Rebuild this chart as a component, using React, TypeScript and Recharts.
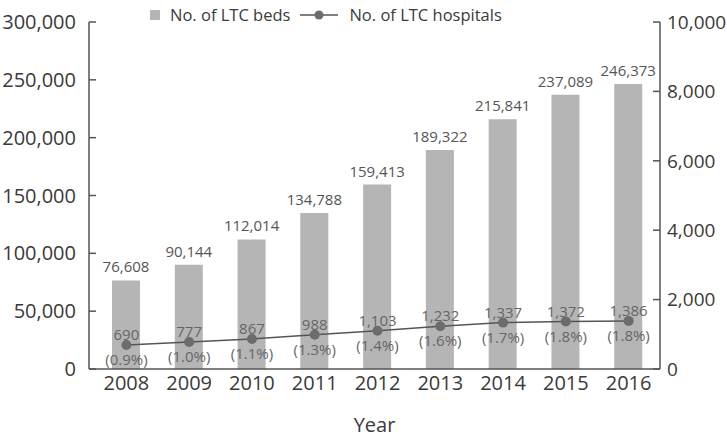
import React from 'react';
import { ComposedChart, Bar, Line, XAxis, YAxis, Legend, LabelList } from 'recharts';

const years = ['2008', '2009', '2010', '2011', '2012', '2013', '2014', '2015', '2016'];
const beds = [76608, 90144, 112014, 134788, 159413, 189322, 215841, 237089, 246373];
const hospitals = [690, 777, 867, 988, 1103, 1232, 1337, 1372, 1386];
const hospitalShare = ['0.9', '1.0', '1.1', '1.3', '1.4', '1.6', '1.7', '1.8', '1.8'];

const bedTicks = [0, 50000, 100000, 150000, 200000, 250000, 300000];
const hospitalTicks = [0, 2000, 4000, 6000, 8000, 10000];

const data = years.map((year, i) => ({
  year,
  beds: beds[i],
  hospitals: hospitals[i],
  share: hospitalShare[i],
}));

const FONT = '"Open Sans", sans-serif';
const BAR_COLOR = '#b5b5b5';
const LINE_COLOR = '#555555';
const DOT_COLOR = '#6c6c6c';
const AXIS_COLOR = '#555555';
const TEXT_COLOR = '#3a3a3a';

const fmt = (v: number) => v.toLocaleString('en-US');

// hospital count above each point, share of all hospitals below it
const HospitalLabel = (props: any) => {
  const { x, y, index } = props;
  const d = data[index];
  return (
    <g fontSize={15} fill="#666" textAnchor="middle">
      <text x={x} y={y - 10} dy="0.35em">{fmt(d.hospitals)}</text>
      <text x={x} y={y + 15} dy="0.35em">({d.share}%)</text>
    </g>
  );
};

const renderLegend = (props: any) => {
  const { payload = [] } = props;
  return (
    <div style={{ display: 'flex', alignItems: 'center', fontFamily: FONT, fontSize: 16.5, color: TEXT_COLOR, lineHeight: '22px' }}>
      {payload.map((entry: any) => (
        <div key={entry.value} style={{ display: 'flex', alignItems: 'center', marginRight: 10 }}>
          {entry.type === 'line' ? (
            <svg width={38} height={12} style={{ marginRight: 11 }}>
              <line x1={0} y1={6} x2={38} y2={6} stroke={LINE_COLOR} strokeWidth={1.5} />
              <circle cx={19} cy={6} r={4.5} fill={DOT_COLOR} />
            </svg>
          ) : (
            <span style={{ width: 10, height: 10, background: BAR_COLOR, marginRight: 10, display: 'inline-block' }} />
          )}
          <span>{entry.value}</span>
        </div>
      ))}
    </div>
  );
};

export default function App() {
  return (
    <div style={{ position: 'absolute', left: 0, top: 0, width: 727, height: 443, background: '#fff' }}>
      <ComposedChart
        width={727}
        height={443}
        data={data}
        margin={{ top: 22, right: 0, bottom: 0, left: 0 }}
        style={{ fontFamily: FONT }}
      >
        <Legend
          layout="horizontal"
          verticalAlign="middle"
          align="center"
          content={renderLegend}
          wrapperStyle={{ top: 4, left: 150, width: 420, height: 22 }}
        />
        <XAxis
          dataKey="year"
          height={74}
          padding={{ left: 6, right: 0 }}
          tickLine={false}
          tickSize={0}
          tickMargin={7}
          axisLine={{ stroke: AXIS_COLOR, strokeWidth: 1.5 }}
          tick={{ fill: TEXT_COLOR, fontSize: 20 }}
          label={{ value: 'Year', position: 'insideBottom', offset: 11, fill: TEXT_COLOR, fontSize: 20 }}
        />
        <YAxis
          yAxisId="beds"
          orientation="left"
          width={89}
          domain={[0, 300000]}
          ticks={bedTicks}
          tickFormatter={fmt}
          tickSize={-7}
          tickMargin={20}
          axisLine={{ stroke: AXIS_COLOR, strokeWidth: 1.5 }}
          tickLine={{ stroke: AXIS_COLOR, strokeWidth: 1.5 }}
          tick={{ fill: TEXT_COLOR, fontSize: 20 }}
        />
        <YAxis
          yAxisId="hospitals"
          orientation="right"
          width={67}
          domain={[0, 10000]}
          ticks={hospitalTicks}
          tickFormatter={fmt}
          tickSize={-7}
          tickMargin={14}
          axisLine={{ stroke: AXIS_COLOR, strokeWidth: 1.5 }}
          tickLine={{ stroke: AXIS_COLOR, strokeWidth: 1.5 }}
          tick={{ fill: TEXT_COLOR, fontSize: 19, textAnchor: 'start' }}
        />
        <Bar
          yAxisId="beds"
          dataKey="beds"
          name="No. of LTC beds"
          fill={BAR_COLOR}
          barSize={28}
          isAnimationActive={false}
        >
          <LabelList dataKey="beds" position="top" offset={8} formatter={(v: any) => fmt(v)} fill="#555" fontSize={15} />
        </Bar>
        <Line
          yAxisId="hospitals"
          dataKey="hospitals"
          name="No. of LTC hospitals"
          type="linear"
          stroke={LINE_COLOR}
          strokeWidth={1.5}
          dot={{ r: 5, fill: DOT_COLOR, stroke: 'none' }}
          activeDot={false}
          isAnimationActive={false}
        >
          <LabelList dataKey="hospitals" content={HospitalLabel} />
        </Line>
      </ComposedChart>
    </div>
  );
}
